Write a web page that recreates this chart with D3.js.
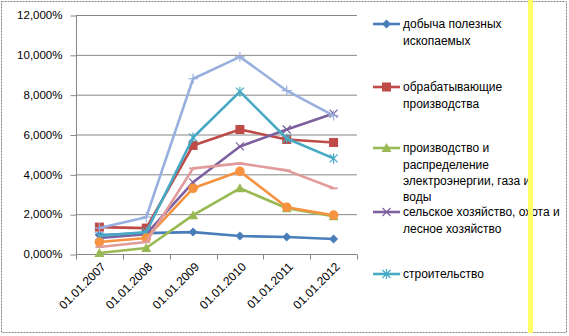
<!DOCTYPE html>
<html><head><meta charset="utf-8">
<script src="https://cdn.jsdelivr.net/npm/d3@7"></script>
<style>body{margin:0;background:#fff}svg{display:block}text{font-family:"Liberation Sans",Arial,sans-serif}</style>
</head><body><svg id="c" width="569" height="336"></svg>
<script>
const categories = ["01.01.2007","01.01.2008","01.01.2009","01.01.2010","01.01.2011","01.01.2012"];
const yTicks = [0,2,4,6,8,10,12];
const seriesNames = [
  "добыча полезных ископаемых",
  "обрабатывающие производства",
  "производство и распределение электроэнергии, газа и воды",
  "сельское хозяйство, охота и лесное хозяйство",
  "строительство",
  "оптовая и розничная торговля",
  "транспорт и связь",
  "прочие"
];
const legendLines = [
  ["добыча полезных","ископаемых"],
  ["обрабатывающие","производства"],
  ["производство и","распределение","электроэнергии, газа и","воды"],
  ["сельское хозяйство, охота и","лесное хозяйство"],
  ["строительство"]
];
const mining      = [0.95,1.05,1.1,0.9,0.85,0.75];
const manufact    = [1.35,1.3,5.45,6.25,5.75,5.6];
const energy      = [0.05,0.3,1.95,3.3,2.3,1.9];
const agriculture = [0.8,1.0,3.6,5.4,6.25,7.05];
const construct   = [0.9,1.1,5.85,8.15,5.8,4.8];
const trade       = [0.6,0.8,3.3,4.15,2.35,1.95];
const transport   = [1.3,1.85,8.8,9.9,8.2,6.95];
const other       = [0.35,0.6,4.3,4.55,4.2,3.3];
const seriesValues = [mining,manufact,energy,agriculture,construct,trade,transport,other];
const colors = ["#4A7EBB","#BE4B48","#98B954","#7D60A0","#46AAC5","#F69240","#98B0DE","#E09B9A"];
const markers = ["diamond","square","triangle","x","star","circle","plus","dash"];

const svg = d3.select("#c");
svg.append("rect").attr("x",1.5).attr("y",1.5).attr("width",565).attr("height",331)
  .attr("fill","#fff").attr("stroke","#808080").attr("stroke-dasharray","2,1").attr("stroke-width",1);

const L=76, R=357, T=15, B=254;
const x = d3.scaleBand().domain(categories).range([L,R]);
const y = d3.scaleLinear().domain([0,12]).range([B,T]);

svg.append("g").selectAll("line").data(yTicks.filter(d=>d>0)).join("line")
  .attr("x1",L).attr("x2",R).attr("y1",d=>y(d)+0.5).attr("y2",d=>y(d)+0.5)
  .attr("stroke","#868686").attr("stroke-width",1);

const ya = svg.append("g").attr("transform",`translate(${L+0.5},0)`)
  .call(d3.axisLeft(y).tickValues(yTicks).tickSize(6)
    .tickFormat(d=>d3.format(".3f")(d).replace(".",",")+"%"));
ya.select(".domain").attr("stroke","#868686").attr("d",`M0,${T}V${B}`);
ya.selectAll(".tick line").attr("stroke","#868686").attr("transform","translate(0,0.5)");
ya.selectAll(".tick text").attr("font-size",11.5).attr("fill","#000").attr("x",-14)
  .attr("font-family","'Liberation Sans',Arial,sans-serif");

const xa = svg.append("g").attr("transform",`translate(0,${B+0.5})`)
  .call(d3.axisBottom(x).tickSize(0).tickFormat(""));
xa.select(".domain").attr("stroke","#868686").attr("d",`M${L},0H${R}`);
const bounds = categories.map(c=>x(c)).concat([R]);
xa.append("g").selectAll("line").data(bounds).join("line")
  .attr("x1",d=>Math.round(d)+0.5).attr("x2",d=>Math.round(d)+0.5).attr("y1",0).attr("y2",5)
  .attr("stroke","#868686");
xa.append("g").selectAll("text").data(categories).join("text")
  .attr("transform",d=>`translate(${x(d)+x.bandwidth()/2+4},10) rotate(-45)`)
  .attr("text-anchor","end").attr("dy","0.35em").attr("font-size",12).attr("fill","#000")
  .text(d=>d);

function drawMarker(g, type, color, cx, cy){
  if(type==="diamond"){
    g.append("path").attr("d",`M${cx},${cy-4.5}L${cx+4.5},${cy}L${cx},${cy+4.5}L${cx-4.5},${cy}Z`).attr("fill",color);
  } else if(type==="square"){
    g.append("rect").attr("x",cx-4.5).attr("y",cy-4.5).attr("width",9).attr("height",9).attr("fill",color);
  } else if(type==="triangle"){
    g.append("path").attr("d",`M${cx},${cy-5}L${cx+5},${cy+4}L${cx-5},${cy+4}Z`).attr("fill",color);
  } else if(type==="circle"){
    g.append("circle").attr("cx",cx).attr("cy",cy).attr("r",4.8).attr("fill",color);
  } else if(type==="x"){
    g.append("path").attr("d",`M${cx-4},${cy-4}L${cx+4},${cy+4}M${cx+4},${cy-4}L${cx-4},${cy+4}`).attr("stroke",color).attr("stroke-width",1.2);
  } else if(type==="star"){
    g.append("path").attr("d",`M${cx-4},${cy-4}L${cx+4},${cy+4}M${cx+4},${cy-4}L${cx-4},${cy+4}M${cx},${cy-5}L${cx},${cy+5}`).attr("stroke",color).attr("stroke-width",1.2);
  } else if(type==="plus"){
    g.append("path").attr("d",`M${cx-5},${cy}L${cx+5},${cy}M${cx},${cy-5}L${cx},${cy+5}`).attr("stroke",color).attr("stroke-width",1.2);
  } else if(type==="dash"){
    g.append("path").attr("d",`M${cx-4},${cy}L${cx+4},${cy}`).attr("stroke",color).attr("stroke-width",2);
  }
}

const line = d3.line().x((d,i)=>x(categories[i])+x.bandwidth()/2).y(d=>y(d));
const plot = svg.append("g");
seriesValues.forEach((vals,si)=>{
  const g = plot.append("g");
  g.append("path").attr("d",line(vals)).attr("fill","none").attr("stroke",colors[si])
    .attr("stroke-width",2.6).attr("stroke-linejoin","round");
  vals.forEach((v,i)=>drawMarker(g, markers[si], colors[si], x(categories[i])+x.bandwidth()/2, y(v)));
});

const legendY = [24, 87, 148, 212, 274];
const lg = svg.append("g");
legendLines.forEach((lines,i)=>{
  const cy = legendY[i];
  lg.append("line").attr("x1",373).attr("x2",400).attr("y1",cy).attr("y2",cy)
    .attr("stroke",colors[i]).attr("stroke-width",2.6);
  drawMarker(lg, markers[i], colors[i], 386.5, cy);
  lines.forEach((t,j)=>{
    lg.append("text").attr("x",403).attr("y",cy+j*16.3).attr("dy","0.35em")
      .attr("font-size",12).attr("fill","#000").text(t);
  });
});

svg.append("rect").attr("x",528).attr("y",0).attr("width",5).attr("height",333).attr("fill","#FFFF66");
</script></body></html>
